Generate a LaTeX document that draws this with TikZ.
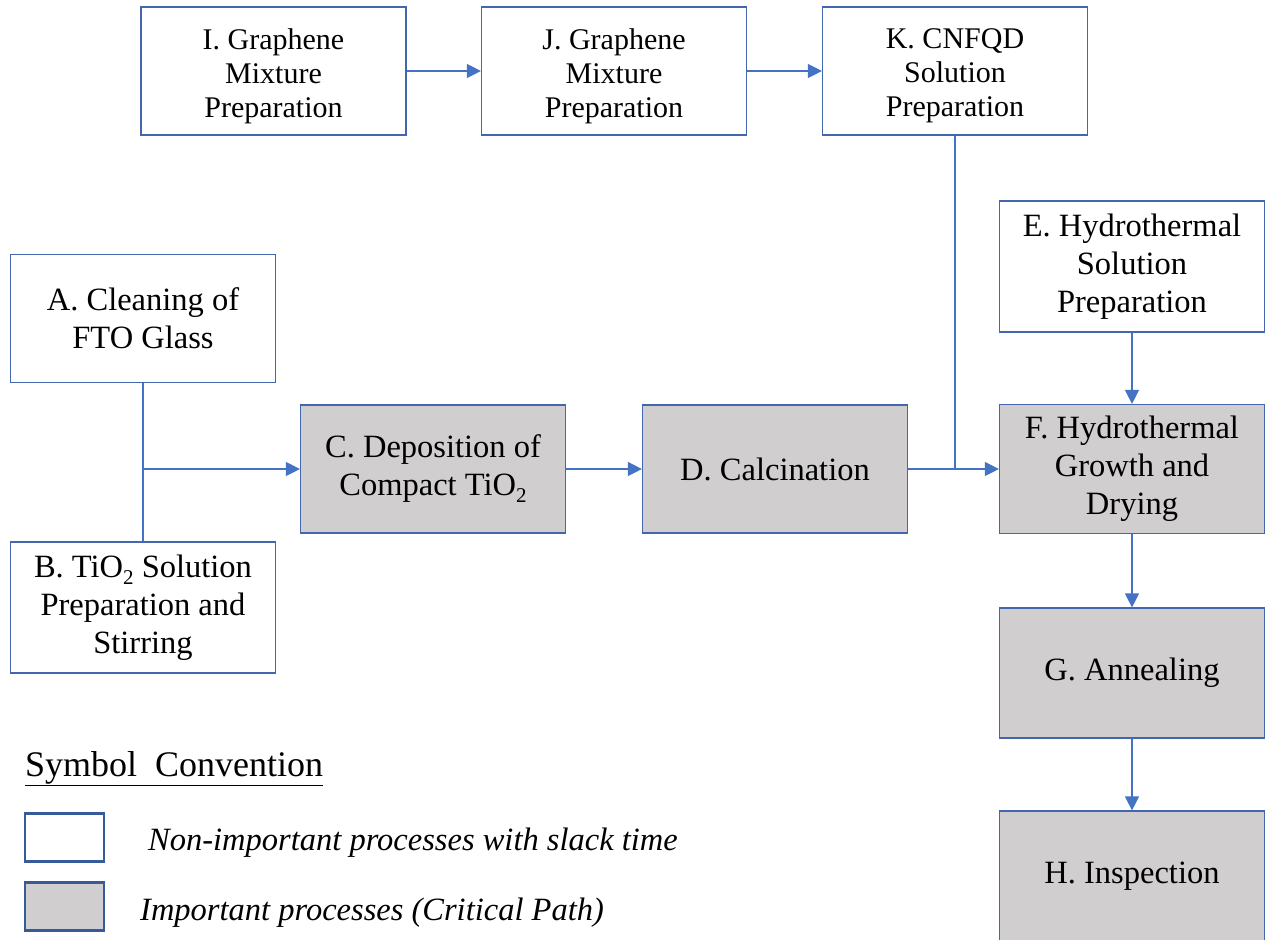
\documentclass[tikz,border=0pt]{standalone}
\usepackage{fontspec}
\setmainfont{Liberation Serif}
\usetikzlibrary{arrows.meta}
\definecolor{edgeblue}{RGB}{66,103,175}
\definecolor{keyblue}{RGB}{55,90,155}
\definecolor{linkblue}{RGB}{68,114,196}
\definecolor{critgray}{RGB}{208,206,206}
\newcommand{\lowtwo}{\raisebox{-7pt}{\fontsize{21}{21}\selectfont 2}}
\tikzset{
  procbox/.style={rectangle, draw=edgeblue, line width=1.2pt, fill=white,
    minimum width=265pt, minimum height=128pt, inner sep=0pt, align=center,
    font=\fontsize{32.5}{38}\selectfont},
  topbox/.style={procbox},
  toptext/.style={align=center, inner sep=0pt, font=\fontsize{30}{34}\selectfont},
  critbox/.style={procbox, fill=critgray},
  link/.style={draw=linkblue, line width=1.3pt},
  flow/.style={link, -{Triangle[length=14pt,width=14pt]}},
  keybox/.style={rectangle, draw=keyblue, line width=2.2pt, minimum width=79pt,
    minimum height=48pt, inner sep=0pt},
  legendtext/.style={anchor=west, inner sep=0pt, font=\fontsize{32.5}{36}\selectfont\itshape}
}
\begin{document}
\begin{tikzpicture}[x=1pt,y=-1pt]
\useasboundingbox (0,0) rectangle (1267,940);
\fill[white] (0,0) rectangle (1267,940);

% top row: preparation steps
\node[topbox] (I) at (273.5,71) {};
\node[toptext] (Itxt) at ([yshift=-5pt]I.center) {I. Graphene\\Mixture\\Preparation};
\node[topbox] (J) at (614,71) {};
\node[toptext] (Jtxt) at ([yshift=-5pt]J.center) {J. Graphene\\Mixture\\Preparation};
\node[topbox] (K) at (955,71) {};
\node[toptext] (Ktxt) at ([yshift=-5pt]K.center) {K. CNFQD\\Solution\\Preparation};

% substrate branch
\node[procbox] (A) at (143,318.5) {A. Cleaning of\\FTO Glass};
\node[procbox, minimum height=131pt] (B) at (143,607.5) {B. TiO\lowtwo{} Solution\\Preparation and\\Stirring};

% main line
\node[critbox] (C) at (433,469) {C. Deposition of\\Compact TiO\lowtwo};
\node[critbox] (D) at (775,469) {D. Calcination};
\node[procbox, minimum height=131pt] (E) at (1132,266.5) {E. Hydrothermal\\Solution\\Preparation};
\node[critbox, minimum height=129pt] (F) at (1132,469) {F. Hydrothermal\\Growth and\\Drying};
\node[critbox, minimum height=130pt] (G) at (1132,673) {G. Annealing};
\node[critbox, minimum height=131pt] (H) at (1132,876.5) {H. Inspection};

% connectors
\draw[flow] (I) -- (J);
\draw[flow] (J) -- (K);
\coordinate (ab) at (A.south |- C.west);
\draw[link] (A.south) -- (B.north);
\draw[flow] (ab) -- (C.west);
\draw[flow] (C) -- (D);
\draw[flow] (D.east) -- (F.west);
\coordinate (kd) at (K.south |- F.west);
\draw[link] (K.south) -- (kd);
\draw[flow] (E) -- (F);
\draw[flow] (F) -- (G);
\draw[flow] (G) -- (H);

% legend
\node[anchor=base west, inner sep=0pt, font=\fontsize{36}{40}\selectfont] (title) at (25,776) {\underline{Symbol\ \ Convention}};
\node[keybox, fill=white] (keyw) at (64.5,837.5) {};
\node[keybox, fill=critgray] (keyg) at (64.5,906.5) {};
\node[legendtext] (tw) at (148,843) {Non-important processes with slack time};
\node[legendtext] (tg) at (140,913) {Important processes (Critical Path)};
\end{tikzpicture}
\end{document}
